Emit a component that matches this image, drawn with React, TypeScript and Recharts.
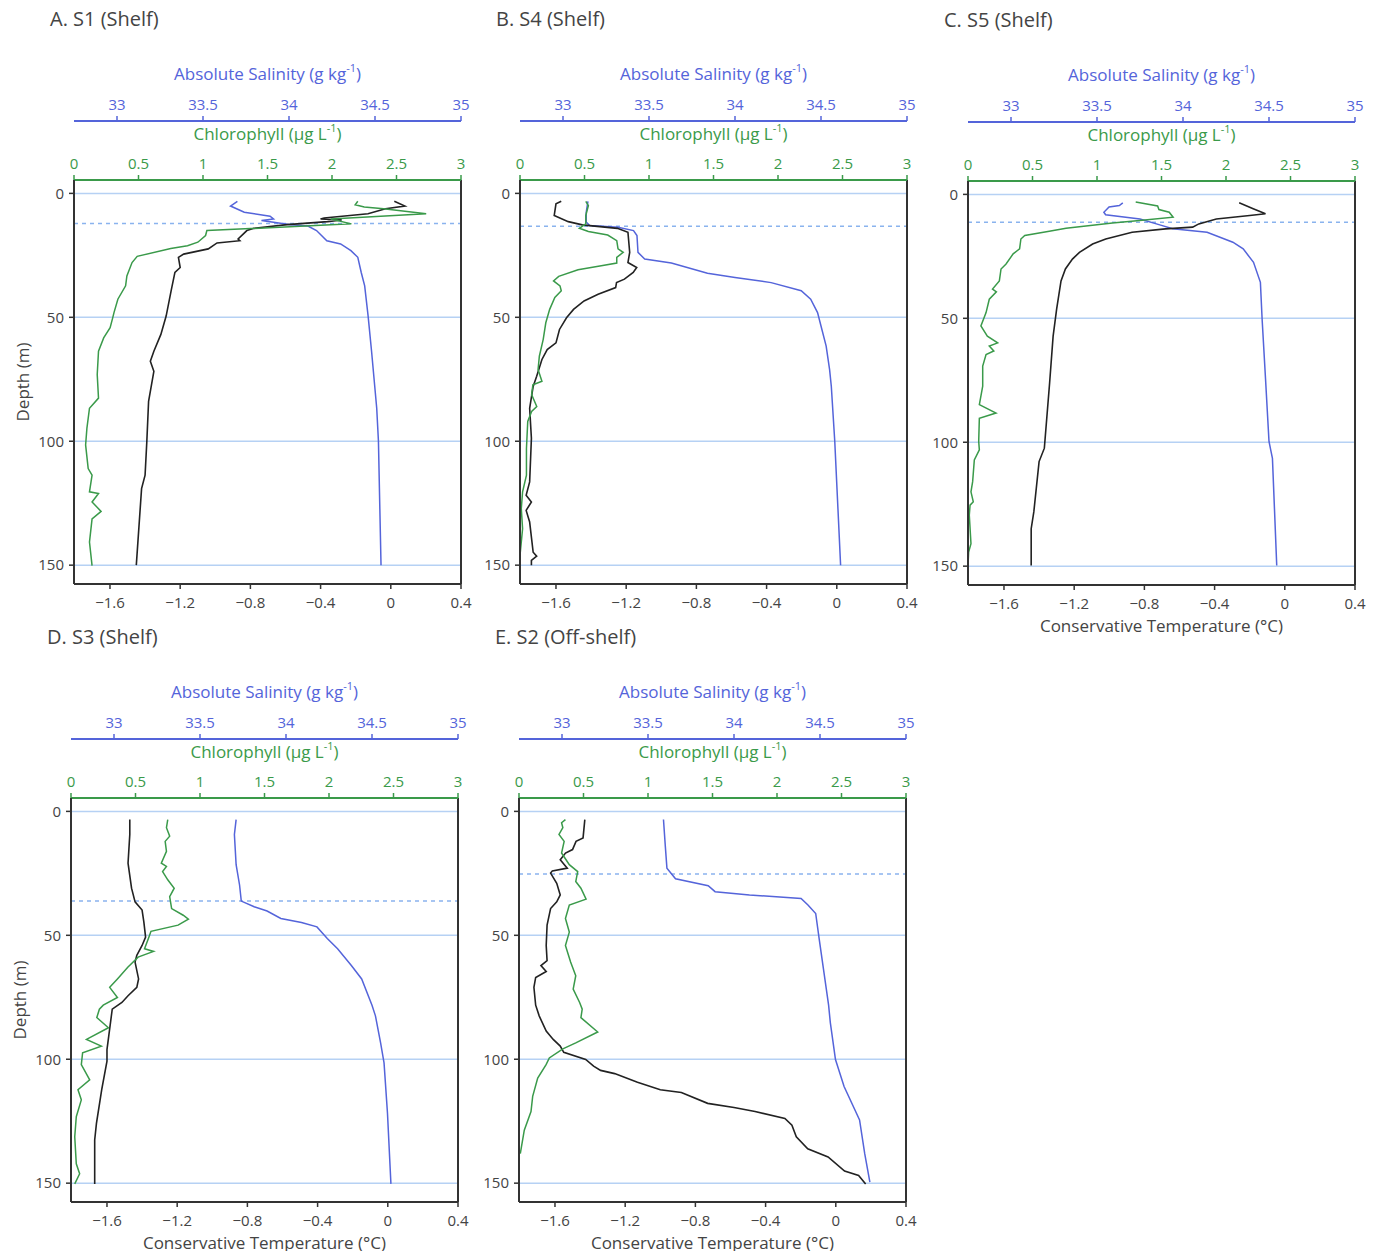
import React from 'react';
import { LineChart, Line, XAxis, YAxis, CartesianGrid, ReferenceLine } from 'recharts';

// ─── Data: [depth (m), value] ───────────────────────────────────────────────

type Pair = [number, number];

const depthTicks = [0, 50, 100, 150];
const tempTicks = [-1.6, -1.2, -0.8, -0.4, 0, 0.4];
const chlTicks = [0, 0.5, 1, 1.5, 2, 2.5, 3];
const salTicks = [33, 33.5, 34, 34.5, 35];

// A. S1 (Shelf)
const s1Sal: Pair[] = [
  [3.2, 33.7], [5.1, 33.66], [7.6, 33.74], [9.2, 33.89], [10.3, 33.91], [10.9, 33.84], [11.6, 33.91],
  [12.7, 34.01], [13.2, 34.11], [15, 34.16], [19.1, 34.22], [20.4, 34.3], [23.1, 34.36], [25.8, 34.4],
  [31.9, 34.42], [37.3, 34.44], [49.5, 34.46], [63.7, 34.48], [86.7, 34.51], [100, 34.52], [150, 34.535],
];
const s1Temp: Pair[] = [
  [3.2, 0.02], [5.1, 0.08], [6.2, -0.03], [8.2, -0.13], [9.9, -0.38], [10.3, -0.4], [10.7, -0.28],
  [11.4, -0.36], [12.6, -0.59], [14.1, -0.78], [15, -0.82], [18.4, -0.87], [19.1, -0.86], [20, -0.99],
  [22.4, -1.04], [24.5, -1.18], [25.8, -1.21], [29.9, -1.2], [31.9, -1.23], [38.7, -1.25], [49.5, -1.28],
  [56.9, -1.31], [63.7, -1.35], [67.7, -1.37], [71.8, -1.35], [83.9, -1.38], [100, -1.39], [113.7, -1.4],
  [119.1, -1.42], [150, -1.45],
];
const s1Chl: Pair[] = [
  [3.2, 2.2], [4.6, 2.18], [5.5, 2.25], [6.2, 2.4], [8.2, 2.73], [10.3, 1.99], [12.3, 2.15], [15, 1.03],
  [17, 1.02], [19.7, 0.96], [21.1, 0.88], [22.2, 0.75], [25.4, 0.49], [27.9, 0.45], [33.3, 0.41],
  [37.3, 0.4], [42.7, 0.34], [48.1, 0.31], [50.2, 0.3], [54.2, 0.28], [58.3, 0.23], [63.7, 0.19],
  [73.1, 0.18], [82.6, 0.19], [86.7, 0.12], [94.8, 0.1], [101.5, 0.09], [111, 0.11], [113.7, 0.14],
  [120.4, 0.12], [121.1, 0.19], [124.5, 0.14], [128.3, 0.21], [131.3, 0.14], [140.7, 0.12], [150.2, 0.14],
];

// B. S4 (Shelf)
const s4Sal: Pair[] = [
  [3.2, 33.145], [7.6, 33.135], [11.6, 33.135], [13, 33.155], [13.7, 33.32], [15, 33.41], [17, 33.43],
  [23.8, 33.436], [26.5, 33.475], [28.1, 33.63], [32.2, 33.84], [33.9, 34.0], [36, 34.21], [39.3, 34.385],
  [42.7, 34.44], [48.1, 34.48], [53.5, 34.5], [61.6, 34.53], [71.1, 34.55], [77.9, 34.56], [100, 34.58],
  [150, 34.614],
];
const s4Temp: Pair[] = [
  [3.2, -1.57], [4.2, -1.6], [8.9, -1.61], [11.4, -1.53], [12.7, -1.45], [14.1, -1.25], [15.7, -1.19],
  [23.8, -1.18], [27.9, -1.19], [29.9, -1.14], [31.9, -1.16], [34.6, -1.21], [36, -1.255], [38, -1.26],
  [40.7, -1.36], [43.4, -1.44], [46.8, -1.5], [50.2, -1.54], [54.9, -1.58], [60.3, -1.6], [63, -1.65],
  [67, -1.68], [73.8, -1.71], [77.9, -1.73], [86.7, -1.75], [98.8, -1.74], [116.4, -1.75], [121.8, -1.77],
  [124.5, -1.74], [127.9, -1.77], [132.6, -1.75], [144.8, -1.73], [146.4, -1.71], [148.1, -1.74], [150, -1.74],
];
const s4Chl: Pair[] = [
  [3.2, 0.51], [4.9, 0.53], [8.9, 0.51], [12.3, 0.51], [14.1, 0.46], [15.4, 0.53], [16.8, 0.68],
  [19.1, 0.75], [22.4, 0.76], [23.8, 0.8], [25.8, 0.75], [28.1, 0.75], [29.2, 0.63], [30.8, 0.45],
  [33.5, 0.3], [35.3, 0.26], [37.3, 0.31], [39.3, 0.32], [42, 0.27], [46.8, 0.23], [52.2, 0.2],
  [58.9, 0.18], [65.7, 0.15], [71.1, 0.14], [75.8, 0.17], [77.2, 0.1], [81.2, 0.09], [86, 0.13], [88, 0.09],
  [92, 0.06], [102.9, 0.05], [113.7, 0.05], [120.4, 0.02], [127.2, 0.01], [135.3, 0.02], [146.1, 0], [150, 0],
];

// C. S5 (Shelf)
const s5Sal: Pair[] = [
  [3.4, 33.65], [4.5, 33.63], [5.1, 33.57], [7.2, 33.54], [8.2, 33.55], [9.9, 33.75], [12.3, 33.865],
  [13.9, 33.94], [15.3, 34.14], [19.3, 34.29], [22, 34.35], [27.4, 34.41], [35.5, 34.45], [50.4, 34.46],
  [74.7, 34.48], [99.7, 34.5], [106.5, 34.52], [149.7, 34.545],
];
const s5Temp: Pair[] = [
  [3.4, -0.26], [5.8, -0.18], [7.8, -0.11], [8.5, -0.2], [9.9, -0.39], [11.9, -0.49], [13.2, -0.525],
  [13.9, -0.68], [15.3, -0.87], [18, -1.02], [20, -1.095], [23.4, -1.17], [26.1, -1.21], [30.1, -1.25],
  [34.9, -1.275], [46.3, -1.3], [57.2, -1.32], [76.1, -1.34], [102.4, -1.37], [107.8, -1.4], [128.1, -1.43],
  [134.9, -1.445], [149.7, -1.445],
];
const s5Chl: Pair[] = [
  [3.1, 1.3], [4.7, 1.47], [6.1, 1.48], [7.2, 1.56], [9.2, 1.59], [10.5, 1.33], [11.5, 1.12], [13.7, 0.76],
  [14.9, 0.63], [16.6, 0.44], [18, 0.41], [22, 0.4], [24, 0.35], [28.1, 0.295], [30.1, 0.256], [34.9, 0.243],
  [38.2, 0.19], [39.3, 0.22], [42.3, 0.165], [47.7, 0.14], [53.1, 0.1], [57.2, 0.15], [59.9, 0.23],
  [61.2, 0.165], [63.2, 0.2], [64.6, 0.14], [69.3, 0.114], [77.4, 0.114], [84.8, 0.088], [88.2, 0.217],
  [90.3, 0.088], [99.7, 0.083], [103.1, 0.088], [107.1, 0.049], [115.9, 0.036], [120, 0.023], [124, 0.041],
  [125.4, 0.016], [129.4, 0.01], [140.9, 0.023], [144.3, 0.005], [149.6, 0],
];

// D. S3 (Shelf)
const s3Sal: Pair[] = [
  [3.3, 33.71], [9.3, 33.7], [21.5, 33.71], [29.7, 33.73], [36.2, 33.74], [38.5, 33.815], [40.2, 33.89],
  [43.2, 33.97], [44.8, 34.09], [46.6, 34.18], [51.3, 34.24], [55.4, 34.3], [62.2, 34.38], [67.6, 34.44],
  [78.2, 34.5], [82.5, 34.52], [93.4, 34.55], [101.5, 34.57], [121.8, 34.59], [150.3, 34.61],
];
const s3Temp: Pair[] = [
  [3.3, -1.47], [9.3, -1.47], [20.9, -1.48], [31, -1.46], [36.5, -1.44], [39.8, -1.4], [44.6, -1.39],
  [50.7, -1.38], [54.1, -1.4], [58.1, -1.43], [60.8, -1.44], [67.6, -1.42], [71, -1.43], [74.4, -1.48],
  [77.1, -1.515], [79.8, -1.57], [85.2, -1.58], [90.7, -1.59], [96.1, -1.6], [100.8, -1.6], [112.3, -1.63],
  [125.9, -1.66], [132.6, -1.67], [150.3, -1.67],
];
const s3Chl: Pair[] = [
  [3.3, 0.75], [6.6, 0.74], [10, 0.765], [12.1, 0.73], [16.1, 0.74], [20.9, 0.7], [22.2, 0.74], [24.3, 0.71],
  [27.6, 0.75], [31, 0.8], [34.4, 0.765], [39.2, 0.78], [41.9, 0.87], [43.5, 0.91], [45.9, 0.83], [48.4, 0.62],
  [51.3, 0.6], [55.4, 0.57], [56.5, 0.64], [58.8, 0.52], [62.9, 0.44], [67.6, 0.36], [71, 0.3], [75.1, 0.36],
  [78.2, 0.25], [79.8, 0.22], [83.2, 0.2], [87.3, 0.29], [92, 0.12], [94.7, 0.235], [97.4, 0.09], [102.2, 0.08],
  [108.3, 0.145], [112.3, 0.054], [116.4, 0.08], [123.2, 0.041], [131.3, 0.029], [142.2, 0.041],
  [146.2, 0.067], [150.3, 0.029],
];

// E. S2 (Off-shelf)
const s2Sal: Pair[] = [
  [3.3, 33.59], [13.4, 33.6], [22.9, 33.61], [27.2, 33.66], [30, 33.85], [32.4, 33.89], [33.7, 34.09],
  [35.1, 34.39], [37.8, 34.43], [41.2, 34.475], [51.3, 34.495], [63.5, 34.52], [78.2, 34.55], [85.2, 34.56],
  [100.1, 34.59], [111, 34.64], [124.5, 34.73], [138.1, 34.76], [149.6, 34.79],
];
const s2Temp: Pair[] = [
  [3.3, -1.43], [10.7, -1.44], [12.1, -1.48], [15.4, -1.5], [16.8, -1.54], [19.5, -1.57], [22.9, -1.53],
  [24, -1.615], [24.9, -1.625], [29, -1.59], [33.7, -1.57], [36.5, -1.59], [39.2, -1.625], [45.9, -1.645],
  [54.1, -1.65], [60.2, -1.645], [62.2, -1.68], [64.6, -1.65], [67, -1.71], [71, -1.72], [78.2, -1.71],
  [82.5, -1.69], [88.6, -1.65], [92, -1.61], [94.7, -1.57], [97.2, -1.55], [100.1, -1.425], [102.8, -1.38],
  [104.5, -1.34], [105.8, -1.26], [109.3, -1.13], [112.3, -1.0], [113.4, -0.88], [117.8, -0.73],
  [119.5, -0.58], [121.1, -0.46], [123.9, -0.29], [126.6, -0.25], [131.3, -0.225], [136.1, -0.16],
  [139.4, -0.044], [145.1, 0.05], [146.9, 0.13], [150.3, 0.17],
];
const s2Chl: Pair[] = [
  [3.3, 0.36], [4.6, 0.33], [6.6, 0.34], [9.3, 0.31], [12.1, 0.35], [16.8, 0.33], [21.5, 0.39], [24.3, 0.455],
  [28.3, 0.44], [31, 0.48], [35.4, 0.52], [37.8, 0.39], [43.2, 0.36], [48.7, 0.39], [54.1, 0.36], [60.8, 0.4],
  [66.3, 0.44], [71.7, 0.42], [77.1, 0.47], [79.8, 0.49], [83.2, 0.48], [89, 0.61], [93.4, 0.44],
  [95.8, 0.34], [99.5, 0.235], [102.2, 0.21], [107.6, 0.145], [115, 0.106], [121.1, 0.093], [128.6, 0.041],
  [138.1, 0.01],
];

// mixed layer depth (dashed line), m
const mldDepths = { s1: 12.2, s4: 13.3, s5: 11.2, s3: 36.2, s2: 25.3 };

// ─── Style constants ────────────────────────────────────────────────────────

const BLUE = '#5464da';
const GREEN = '#3a9a4a';
const INK = '#333';
const TEXT = '#444';
const GRID = '#b6d1f4';
const DASH = '#8ab3ee';
const FONT = '"Open Sans", "Noto Sans", sans-serif';

const W = 482;
const H = 640;

const toRows = (pairs: Pair[]) => pairs.map(([d, v]) => ({ d, v }));
const minus = (v: number) => (v < 0 ? `\u2212${Math.abs(v)}` : `${v}`);

// ─── Axis titles ────────────────────────────────────────────────────────────

function UnitTitle({ x, y, text, unit, color }: { x: number; y: number; text: string; unit: string; color: string }) {
  return (
    <text x={x} y={y} textAnchor="middle" dominantBaseline="central" fill={color} fontSize={17} fontFamily={FONT}>
      {text} ({unit}
      <tspan dy={-6} fontSize={11}>-1</tspan>
      <tspan dy={6}>)</tspan>
    </text>
  );
}

interface PanelProps {
  left: number;
  top: number;
  title: string;
  sal: Pair[];
  chl: Pair[];
  temp: Pair[];
  mld: number;
  depthLabel?: boolean;
  tempLabel?: boolean;
}

function Panel({ left, top, title, sal, chl, temp, mld, depthLabel, tempLabel }: PanelProps) {
  return (
    <div style={{ position: 'absolute', left, top, width: W, height: H }}>
      <LineChart width={W} height={H} margin={{ top: 52, right: 21, bottom: 1, left: 14 }}>
        <XAxis
          xAxisId="chl"
          type="number"
          dataKey="v"
          orientation="top"
          domain={[0, 3]}
          allowDataOverflow
          ticks={chlTicks}
          interval={0}
          height={59}
          tickSize={5}
          tickMargin={6}
          tick={{ fill: GREEN, fontSize: 15 }}
          tickLine={{ stroke: GREEN, strokeWidth: 1.5 }}
          axisLine={{ stroke: GREEN, strokeWidth: 2 }}
          label={(p: any) => (
            <UnitTitle x={p.viewBox.x + p.viewBox.width / 2} y={p.viewBox.y + 12} text="Chlorophyll" unit="µg L" color={GREEN} />
          )}
        />
        <XAxis
          xAxisId="sal"
          type="number"
          dataKey="v"
          orientation="top"
          domain={[32.75, 35]}
          allowDataOverflow
          ticks={salTicks}
          interval={0}
          height={69}
          tickSize={5}
          tickMargin={6}
          tick={{ fill: BLUE, fontSize: 15 }}
          tickLine={{ stroke: BLUE, strokeWidth: 1.5 }}
          axisLine={{ stroke: BLUE, strokeWidth: 2 }}
          label={(p: any) => (
            <UnitTitle x={p.viewBox.x + p.viewBox.width / 2} y={p.viewBox.y + 21} text="Absolute Salinity" unit="g kg" color={BLUE} />
          )}
        />
        <XAxis
          xAxisId="temp"
          type="number"
          dataKey="v"
          orientation="bottom"
          domain={[-1.805, 0.4]}
          allowDataOverflow
          ticks={tempTicks}
          interval={0}
          height={55}
          tickSize={5}
          tickMargin={8}
          tickFormatter={minus}
          tick={{ fill: TEXT, fontSize: 15 }}
          tickLine={{ stroke: INK, strokeWidth: 1.5 }}
          axisLine={{ stroke: INK, strokeWidth: 2 }}
          label={
            tempLabel
              ? (p: any) => (
                  <text
                    x={p.viewBox.x + p.viewBox.width / 2}
                    y={p.viewBox.y + 40}
                    textAnchor="middle"
                    dominantBaseline="central"
                    fill={TEXT}
                    fontSize={17}
                    fontFamily={FONT}
                  >
                    Conservative Temperature (°C)
                  </text>
                )
              : undefined
          }
        />
        <YAxis
          type="number"
          dataKey="d"
          reversed
          domain={[-5.4, 157.6]}
          allowDataOverflow
          ticks={depthTicks}
          interval={0}
          width={60}
          tickSize={5}
          tickMargin={5}
          tick={{ fill: TEXT, fontSize: 15 }}
          tickLine={{ stroke: INK, strokeWidth: 1.5 }}
          axisLine={{ stroke: INK, strokeWidth: 2 }}
          label={
            depthLabel
              ? (p: any) => {
                  const cx = p.viewBox.x + 8;
                  const cy = p.viewBox.y + p.viewBox.height / 2;
                  return (
                    <text
                      x={cx}
                      y={cy}
                      transform={`rotate(-90, ${cx}, ${cy})`}
                      textAnchor="middle"
                      dominantBaseline="central"
                      fill={TEXT}
                      fontSize={17}
                      fontFamily={FONT}
                    >
                      Depth (m)
                    </text>
                  );
                }
              : undefined
          }
        />
        <CartesianGrid xAxisId="temp" vertical={false} stroke={GRID} strokeWidth={1.5} />
        <ReferenceLine xAxisId="temp" y={mld} stroke={DASH} strokeWidth={1.5} strokeDasharray="4 4" />
        <ReferenceLine xAxisId="temp" x={0.4} stroke={INK} strokeWidth={2} />

        <Line xAxisId="sal" data={toRows(sal)} dataKey="d" stroke={BLUE} strokeWidth={1.5} dot={false} isAnimationActive={false} />
        <Line xAxisId="temp" data={toRows(temp)} dataKey="d" stroke="#222" strokeWidth={1.6} dot={false} isAnimationActive={false} />
        <Line xAxisId="chl" data={toRows(chl)} dataKey="d" stroke={GREEN} strokeWidth={1.5} dot={false} isAnimationActive={false} />
      </LineChart>
      <div style={{ position: 'absolute', left: 50, top: 5, fontSize: 20, color: TEXT, whiteSpace: 'nowrap', pointerEvents: 'none' }}>
        {title}
      </div>
    </div>
  );
}

export default function App() {
  return (
    <div style={{ position: 'relative', width: 1378, height: 1259, margin: -8, fontFamily: FONT, background: '#fff' }}>
      <Panel left={0} top={0} title="A. S1 (Shelf)" sal={s1Sal} chl={s1Chl} temp={s1Temp} mld={mldDepths.s1} depthLabel />
      <Panel left={446} top={0} title="B. S4 (Shelf)" sal={s4Sal} chl={s4Chl} temp={s4Temp} mld={mldDepths.s4} />
      <Panel left={894} top={1} title="C. S5 (Shelf)" sal={s5Sal} chl={s5Chl} temp={s5Temp} mld={mldDepths.s5} tempLabel />
      <Panel left={-3} top={618} title="D. S3 (Shelf)" sal={s3Sal} chl={s3Chl} temp={s3Temp} mld={mldDepths.s3} depthLabel tempLabel />
      <Panel left={445} top={618} title="E. S2 (Off-shelf)" sal={s2Sal} chl={s2Chl} temp={s2Temp} mld={mldDepths.s2} tempLabel />
    </div>
  );
}
